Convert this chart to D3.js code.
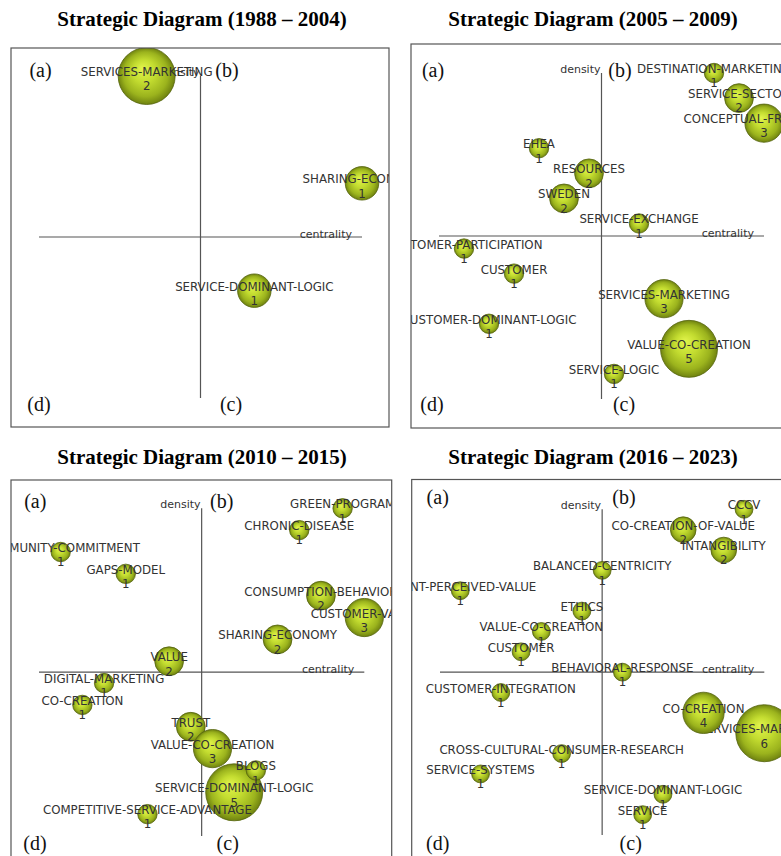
<!DOCTYPE html>
<html>
<head>
<meta charset="utf-8">
<script src="https://cdn.jsdelivr.net/npm/d3@7"></script>
<style>
  body { margin: 0; background: #fff; }
  svg { display: block; }
</style>
</head>
<body>
<svg id="chart" width="781" height="856"></svg>
<script>
// Strategic diagrams: themes placed by centrality rank (x) and density rank (y),
// bubble size and number = documents per theme.

const periodTitles = [
  "Strategic Diagram (1988 – 2004)",
  "Strategic Diagram (2005 – 2009)",
  "Strategic Diagram (2010 – 2015)",
  "Strategic Diagram (2016 – 2023)"
];

const quadrantNames = ["(a)", "(b)", "(c)", "(d)"];

// 1988 – 2004
const themes1 = ["SERVICES-MARKETING", "SHARING-ECONOMY", "SERVICE-DOMINANT-LOGIC"];
const centrality1 = [1, 3, 2];
const density1 = [3, 2, 1];
const docs1 = [2, 1, 1];

// 2005 – 2009
const themes2 = ["DESTINATION-MARKETING", "SERVICE-SECTOR", "CONCEPTUAL-FRAMEWORK", "EHEA",
  "RESOURCES", "SWEDEN", "SERVICE-EXCHANGE", "CUSTOMER-PARTICIPATION", "CUSTOMER",
  "SERVICES-MARKETING", "CUSTOMER-DOMINANT-LOGIC", "VALUE-CO-CREATION", "SERVICE-LOGIC"];
const centrality2 = [11, 12, 13, 4, 6, 5, 8, 1, 3, 9, 2, 10, 7];
const density2 = [13, 12, 11, 10, 9, 8, 7, 6, 5, 4, 3, 2, 1];
const docs2 = [1, 2, 3, 1, 2, 2, 1, 1, 1, 3, 1, 5, 1];

// 2010 – 2015
const themes3 = ["GREEN-PROGRAM", "CHRONIC-DISEASE", "COMMUNITY-COMMITMENT", "GAPS-MODEL",
  "CONSUMPTION-BEHAVIOR", "CUSTOMER-VALUE", "SHARING-ECONOMY", "VALUE", "DIGITAL-MARKETING",
  "CO-CREATION", "TRUST", "VALUE-CO-CREATION", "SERVICE-DOMINANT-LOGIC", "BLOGS",
  "COMPETITIVE-SERVICE-ADVANTAGE"];
const centrality3 = [14, 12, 1, 4, 13, 15, 11, 6, 3, 2, 7, 8, 9, 10, 5];
const density3 = [15, 14, 13, 12, 11, 10, 9, 8, 7, 6, 5, 4, 2, 3, 1];
const docs3 = [1, 1, 1, 1, 2, 3, 2, 2, 1, 1, 2, 3, 5, 1, 1];

// 2016 – 2023
const themes4 = ["CCCV", "CO-CREATION-OF-VALUE", "INTANGIBILITY", "BALANCED-CENTRICITY",
  "CLIENT-PERCEIVED-VALUE", "ETHICS", "VALUE-CO-CREATION", "CUSTOMER", "BEHAVIORAL-RESPONSE",
  "CUSTOMER-INTEGRATION", "SERVICES-MARKETING", "CO-CREATION",
  "CROSS-CULTURAL-CONSUMER-RESEARCH", "SERVICE-SYSTEMS", "SERVICE-DOMINANT-LOGIC", "SERVICE"];
const centrality4 = [15, 12, 14, 8, 1, 7, 5, 4, 9, 3, 16, 13, 6, 2, 11, 10];
const density4 = [16, 15, 14, 13, 12, 11, 10, 9, 8, 7, 5, 6, 4, 3, 2, 1];
const docs4 = [1, 2, 2, 1, 1, 1, 1, 1, 1, 1, 6, 4, 1, 1, 1, 1];

const periods = [
  { themes: themes1, centrality: centrality1, density: density1, docs: docs1 },
  { themes: themes2, centrality: centrality2, density: density2, docs: docs2 },
  { themes: themes3, centrality: centrality3, density: density3, docs: docs3 },
  { themes: themes4, centrality: centrality4, density: density4, docs: docs4 }
];

// Page layout of the four diagrams
const layouts = [
  { title: [202, 26], frame: [11, 48, 378, 379], plot: [39, 362, 76, 398],
    quad: { a: [40.5, 77], b: [227, 77], c: [231, 411], d: [39, 411] } },
  { title: [593, 26], frame: [411, 44, 400, 384], plot: [439, 764, 73, 399],
    quad: { a: [433, 77], b: [620, 77], c: [624, 411], d: [432, 411] } },
  { title: [202, 464], frame: [11, 480, 380.7, 400], plot: [39, 364.3, 508.3, 836],
    quad: { a: [35.3, 507.5], b: [221.7, 507.5], c: [227.7, 850], d: [35, 850] } },
  { title: [593, 464], frame: [411.7, 479.5, 400, 400], plot: [440, 764.3, 509.3, 835],
    quad: { a: [437.7, 503.5], b: [624, 503.5], c: [630.7, 850], d: [437.7, 850] } }
];

const svg = d3.select("#chart");
const defs = svg.append("defs");

const grad = defs.append("radialGradient")
  .attr("id", "ball")
  .attr("cx", "50%").attr("cy", "50%").attr("r", "50%")
  .attr("fx", "42%").attr("fy", "36%");
[["0%", "#e2f44c"], ["40%", "#c3dc30"], ["78%", "#9bb31d"], ["100%", "#6f8210"]]
  .forEach(([o, c]) => grad.append("stop").attr("offset", o).attr("stop-color", c));

const labelFont = "'DejaVu Sans', Verdana, sans-serif";
const serifFont = "'Liberation Serif', 'Times New Roman', serif";
const ink = "#333";

periods.forEach((p, i) => {
  const L = layouts[i];
  const n = p.themes.length;
  const [fx, fy, fw, fh] = L.frame;
  const [x0, x1, y0, y1] = L.plot;

  // title
  svg.append("text")
    .attr("x", L.title[0]).attr("y", L.title[1])
    .attr("text-anchor", "middle")
    .style("font-family", serifFont)
    .style("font-weight", "bold")
    .style("font-size", "21px")
    .attr("fill", "#000")
    .text(periodTitles[i]);

  defs.append("clipPath").attr("id", "clip" + i)
    .append("rect").attr("x", fx).attr("y", fy).attr("width", fw).attr("height", fh);

  const g = svg.append("g").attr("clip-path", `url(#clip${i})`);

  const x = d3.scaleLinear().domain([0, n]).range([x0, x1]);
  const y = d3.scaleLinear().domain([0, n]).range([y1, y0]);
  const r = d3.scaleLinear().domain([0, d3.max(p.docs)]).range([5, 28.5]);

  // quadrant axes cross at the middle rank
  g.append("line")
    .attr("x1", x(0)).attr("x2", x(n))
    .attr("y1", y(n / 2)).attr("y2", y(n / 2))
    .attr("stroke", "#555").attr("stroke-width", 1.2);
  g.append("line")
    .attr("x1", x(n / 2)).attr("x2", x(n / 2))
    .attr("y1", y(n)).attr("y2", y(0))
    .attr("stroke", "#555").attr("stroke-width", 1.2);

  g.append("text")
    .attr("x", x(n) - 10).attr("y", y(n / 2) + 1)
    .attr("text-anchor", "end")
    .style("font-family", labelFont).style("font-size", "11px")
    .attr("fill", ink).text("centrality");
  g.append("text")
    .attr("x", x(n / 2) - 1).attr("y", y(n))
    .attr("text-anchor", "end")
    .style("font-family", labelFont).style("font-size", "11px")
    .attr("fill", ink).text("density");

  // quadrant letters
  quadrantNames.forEach(q => {
    const key = q[1];
    g.append("text")
      .attr("x", L.quad[key][0]).attr("y", L.quad[key][1])
      .attr("text-anchor", "middle")
      .style("font-family", serifFont).style("font-size", "20px")
      .attr("fill", "#111").text(q);
  });

  // theme bubbles
  const items = p.themes.map((t, k) => ({
    name: t, c: p.centrality[k], d: p.density[k], docs: p.docs[k]
  }));
  const node = g.selectAll("g.theme").data(items).enter().append("g")
    .attr("class", "theme")
    .attr("transform", d => `translate(${x(d.c)},${y(d.d)})`);
  node.append("circle")
    .attr("r", d => r(d.docs))
    .attr("fill", "url(#ball)")
    .attr("stroke", "#55650e").attr("stroke-width", 0.8);
  node.append("text")
    .attr("y", 0)
    .attr("text-anchor", "middle")
    .style("font-family", labelFont).style("font-size", "11.8px")
    .attr("fill", ink).text(d => d.name);
  node.append("text")
    .attr("y", 14.3)
    .attr("text-anchor", "middle")
    .style("font-family", labelFont).style("font-size", "11.8px")
    .attr("fill", ink).text(d => d.docs);

  // frame
  svg.append("rect")
    .attr("x", fx).attr("y", fy).attr("width", fw).attr("height", fh)
    .attr("fill", "none").attr("stroke", "#555").attr("stroke-width", 1.2);
});
</script>
</body>
</html>
